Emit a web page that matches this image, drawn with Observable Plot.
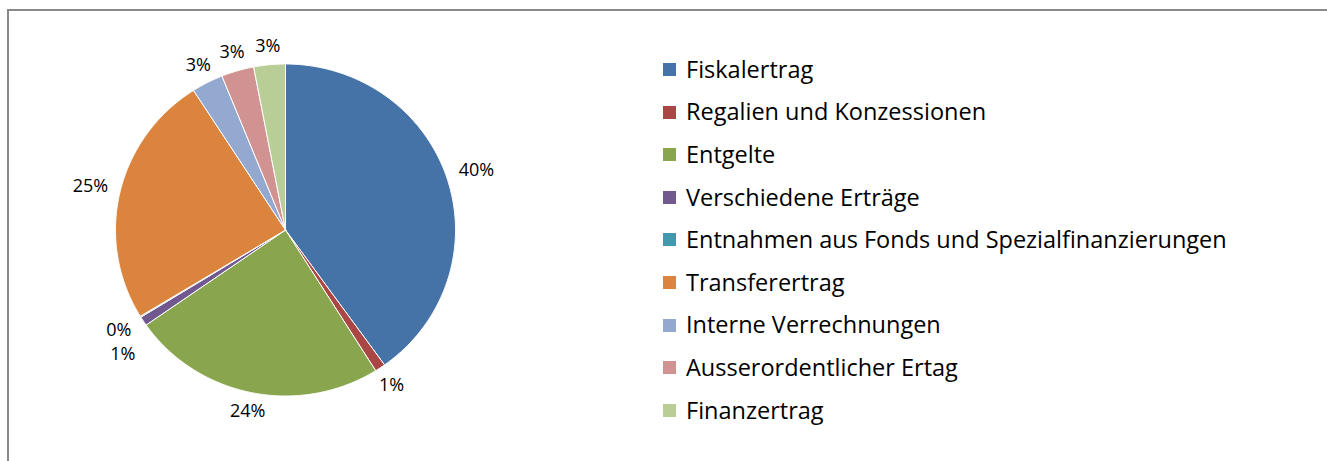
<!DOCTYPE html>
<html>
<head>
<meta charset="utf-8">
<script src="https://cdn.jsdelivr.net/npm/d3@7"></script>
<script src="https://cdn.jsdelivr.net/npm/@observablehq/plot@0.6"></script>
<style>
  html, body { margin: 0; padding: 0; background: #fff; }
  #wrap { position: relative; width: 1327px; height: 461px; overflow: hidden; font-family: "Open Sans", sans-serif; }
  #frame { position: absolute; left: 7px; top: 9px; width: 1400px; height: 500px; border-left: 2px solid #898989; border-top: 2px solid #898989; }
  #pie { position: absolute; left: 0; top: 0; }
  #legend { position: absolute; left: 663px; top: 0; }
  .row { position: absolute; left: 0; display: flex; align-items: center; white-space: nowrap; }
  .sw { width: 13px; height: 13px; margin-right: 10px; flex: none; }
  .lab { font-size: 23.5px; color: #000; line-height: 1; }
</style>
</head>
<body>
<div id="wrap"><div id="frame"></div><div id="pie"></div><div id="legend"></div></div>
<script>
const categories = [
  "Fiskalertrag",
  "Regalien und Konzessionen",
  "Entgelte",
  "Verschiedene Erträge",
  "Entnahmen aus Fonds und Spezialfinanzierungen",
  "Transferertrag",
  "Interne Verrechnungen",
  "Ausserordentlicher Ertag",
  "Finanzertrag"
];
const values = [40.1, 1.0, 24.2, 0.9, 0.1, 24.6, 3.0, 3.1, 3.0];
const colors = ["#4572A7", "#AA4643", "#89A54E", "#71588F", "#4198AF", "#DB843D", "#93A9CF", "#D19392", "#B9CD96"];

// layout (pixels)
const W = 640, H = 461, CX = 285, CY = 229.5, RX = 170, RY = 166;
const FS = 18;

const arcs = d3.pie().sort(null).value(d => d)(values);

// slice polygons in unit-circle coordinates (x = sin a, y = cos a)
const pts = [];
arcs.forEach((a, i) => {
  const cat = categories[i];
  pts.push({cat, x: 0, y: 0});
  const n = Math.max(2, Math.ceil((a.endAngle - a.startAngle) / 0.01));
  for (let k = 0; k <= n; k++) {
    const t = a.startAngle + (a.endAngle - a.startAngle) * k / n;
    pts.push({cat, x: Math.sin(t), y: Math.cos(t)});
  }
  pts.push({cat, x: 0, y: 0});
});

// labels: outside end, centred on the bisector
const labels = arcs.map((a, i) => {
  const m = (a.startAngle + a.endAngle) / 2;
  const s = Math.sin(m), c = Math.cos(m);
  const txt = Math.round(values[i]) + "%";
  const w = (txt.length - 1) * 0.572 * FS + 0.82 * FS, h = 14;
  const d = Math.min(w / 2 / Math.max(Math.abs(s), 1e-6), h / 2 / Math.max(Math.abs(c), 1e-6)) + 12;
  return {txt, w, h, px: CX + s * (RX + d), py: CY - c * (RY + d)};
});
// simple collision resolution: earlier label moves away vertically
const SEP = 24;
for (let i = 0; i < labels.length; i++) {
  for (let j = i + 1; j < labels.length; j++) {
    const A = labels[i], B = labels[j];
    if (Math.abs(A.px - B.px) < (A.w + B.w) / 2 && Math.abs(A.py - B.py) < SEP) {
      A.py = A.py >= B.py ? B.py + SEP : B.py - SEP;
    }
  }
}
labels.forEach(l => { l.x = (l.px - CX) / RX; l.y = (CY - l.py) / RY; });

const chart = Plot.plot({
  width: W, height: H,
  margin: 0,
  x: {domain: [-CX / RX, (W - CX) / RX], axis: null},
  y: {domain: [(CY - H) / RY, CY / RY], axis: null},
  color: {domain: categories, range: colors},
  style: {fontFamily: "'Open Sans', sans-serif", background: "transparent", overflow: "visible"},
  marks: [
    Plot.line(pts, {x: "x", y: "y", z: "cat", fill: "cat", stroke: "white", strokeWidth: 1, curve: "linear-closed"}),
    Plot.text(labels, {x: "x", y: "y", text: "txt", fontSize: FS, fill: "#000", textAnchor: "middle", lineAnchor: "middle"})
  ]
});
document.getElementById("pie").appendChild(chart);

// legend
const lg = document.getElementById("legend");
categories.forEach((c, i) => {
  const row = document.createElement("div");
  row.className = "row";
  row.style.top = (69.5 - 13 + i * 42.6) + "px";
  row.style.height = "26px";
  const sw = document.createElement("div");
  sw.className = "sw";
  sw.style.background = colors[i];
  const t = document.createElement("span");
  t.className = "lab";
  t.textContent = c;
  row.appendChild(sw); row.appendChild(t);
  lg.appendChild(row);
});
</script>
</body>
</html>
